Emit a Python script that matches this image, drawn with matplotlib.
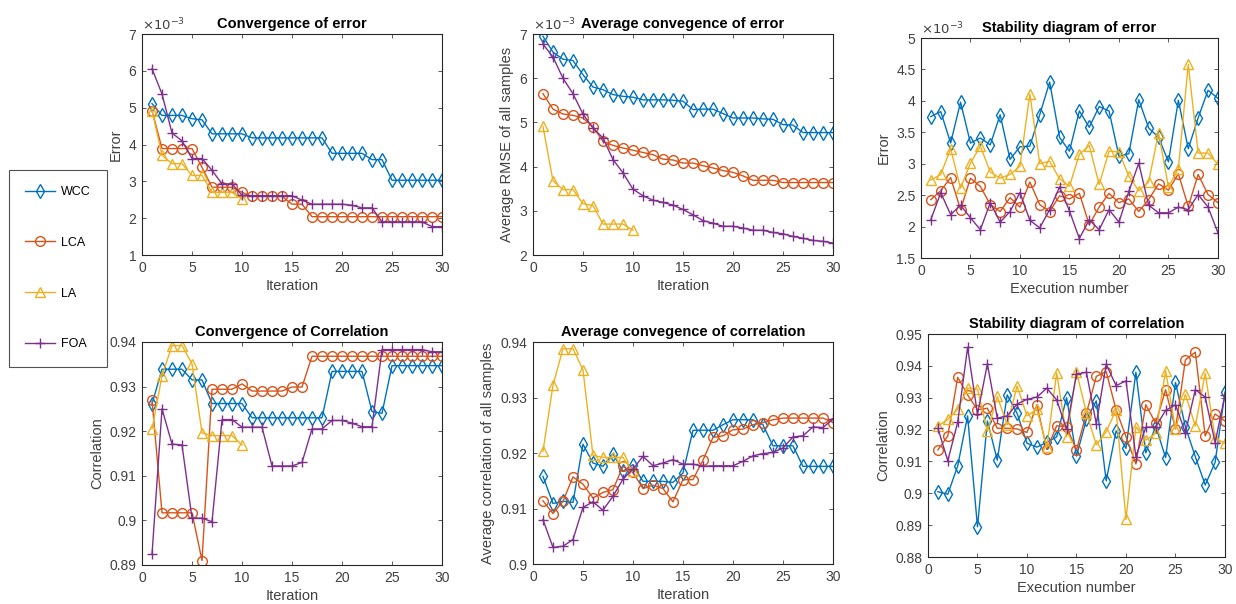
import numpy as np
import matplotlib.pyplot as plt
from matplotlib.lines import Line2D

plt.rcParams['font.family'] = ['Liberation Sans', 'DejaVu Sans']

it = np.arange(1, 31)
it_la = np.arange(1, 11)

# Convergence of error (x1e-3)
ce_wcc = [5.11, 4.79, 4.79, 4.79, 4.70, 4.67, 4.29, 4.29, 4.29, 4.29,
          4.18, 4.18, 4.18, 4.18, 4.18, 4.18, 4.18, 4.18, 3.76, 3.76,
          3.76, 3.76, 3.59, 3.59, 3.03, 3.03, 3.03, 3.03, 3.03, 3.03]
ce_lca = [4.92, 3.89, 3.89, 3.89, 3.89, 3.38, 2.84, 2.84, 2.84, 2.70,
          2.59, 2.59, 2.59, 2.59, 2.38, 2.38, 2.04, 2.04, 2.04, 2.04,
          2.04, 2.04, 2.04, 2.04, 2.04, 2.04, 2.04, 2.04, 2.04, 2.04]
ce_la = [4.92, 3.71, 3.48, 3.48, 3.16, 3.16, 2.70, 2.70, 2.70, 2.52]
ce_foa = [6.06, 5.37, 4.31, 4.10, 3.62, 3.62, 3.30, 2.93, 2.93, 2.62,
          2.61, 2.61, 2.61, 2.61, 2.61, 2.49, 2.38, 2.38, 2.38, 2.38,
          2.35, 2.28, 2.28, 1.90, 1.90, 1.90, 1.90, 1.90, 1.77, 1.77]

# Average convergence of error (x1e-3)
ae_wcc = [6.95, 6.59, 6.43, 6.40, 6.08, 5.80, 5.74, 5.63, 5.59, 5.57,
          5.51, 5.51, 5.51, 5.50, 5.48, 5.29, 5.30, 5.30, 5.20, 5.10,
          5.10, 5.10, 5.08, 5.07, 4.95, 4.94, 4.77, 4.77, 4.77, 4.77]
ae_lca = [5.65, 5.30, 5.19, 5.16, 5.10, 4.90, 4.57, 4.48, 4.42, 4.37,
          4.32, 4.27, 4.17, 4.15, 4.08, 4.08, 4.02, 3.97, 3.91, 3.87,
          3.79, 3.69, 3.69, 3.69, 3.64, 3.64, 3.64, 3.64, 3.64, 3.64]
ae_la = [4.91, 3.68, 3.48, 3.48, 3.16, 3.12, 2.70, 2.70, 2.70, 2.56]
ae_foa = [6.77, 6.48, 6.00, 5.65, 5.19, 4.87, 4.65, 4.16, 3.86, 3.49,
          3.34, 3.24, 3.19, 3.13, 3.03, 2.91, 2.78, 2.72, 2.65, 2.65,
          2.61, 2.56, 2.56, 2.51, 2.48, 2.42, 2.38, 2.33, 2.31, 2.27]

# Stability of error (x1e-3)
se_wcc = [3.75, 3.83, 3.33, 3.98, 3.33, 3.41, 3.30, 3.78, 3.07, 3.27,
          3.28, 3.78, 4.30, 3.42, 3.20, 3.84, 3.58, 3.91, 3.84, 3.12,
          3.16, 4.02, 3.57, 3.42, 3.03, 4.01, 3.24, 3.73, 4.17, 4.04]
se_lca = [2.43, 2.57, 2.78, 2.27, 2.77, 2.64, 2.35, 2.24, 2.46, 2.31,
          2.71, 2.35, 2.24, 2.49, 2.44, 2.53, 2.03, 2.31, 2.53, 2.38,
          2.44, 2.24, 2.43, 2.68, 2.58, 2.84, 2.32, 2.83, 2.51, 2.38]
se_la = [2.74, 2.83, 3.24, 2.61, 3.01, 3.28, 2.87, 2.77, 2.83, 2.96,
         4.11, 3.00, 3.04, 2.76, 2.64, 3.15, 3.29, 2.67, 3.20, 3.19,
         2.80, 2.57, 2.71, 3.49, 2.63, 2.92, 4.58, 3.17, 3.17, 2.99]
se_foa = [2.11, 2.54, 2.19, 2.34, 2.14, 1.95, 2.38, 2.07, 2.24, 2.54,
          2.10, 1.98, 2.27, 2.63, 2.25, 1.81, 2.11, 1.95, 2.27, 2.07,
          2.56, 3.01, 2.34, 2.22, 2.22, 2.31, 2.27, 2.51, 2.31, 1.90]

# Convergence of correlation
cc_wcc = [0.9261, 0.9339, 0.9339, 0.9339, 0.9315, 0.9315, 0.9262, 0.9262, 0.9262, 0.9262,
          0.9230, 0.9230, 0.9230, 0.9230, 0.9230, 0.9230, 0.9230, 0.9230, 0.9334, 0.9334,
          0.9334, 0.9334, 0.9244, 0.9240, 0.9347, 0.9347, 0.9347, 0.9347, 0.9347, 0.9347]
cc_lca = [0.9269, 0.9017, 0.9017, 0.9017, 0.9017, 0.8910, 0.9294, 0.9294, 0.9294, 0.9306,
          0.9290, 0.9290, 0.9290, 0.9290, 0.9299, 0.9299, 0.9368, 0.9368, 0.9368, 0.9368,
          0.9368, 0.9368, 0.9368, 0.9368, 0.9368, 0.9368, 0.9368, 0.9368, 0.9368, 0.9368]
cc_la = [0.9205, 0.9324, 0.9392, 0.9392, 0.9351, 0.9196, 0.9190, 0.9190, 0.9190, 0.9169]
cc_foa = [0.8924, 0.9250, 0.9171, 0.9169, 0.9005, 0.9005, 0.8997, 0.9226, 0.9226, 0.9209,
          0.9209, 0.9209, 0.9122, 0.9122, 0.9122, 0.9130, 0.9205, 0.9205, 0.9224, 0.9224,
          0.9218, 0.9210, 0.9210, 0.9383, 0.9383, 0.9383, 0.9383, 0.9383, 0.9378, 0.9378]

# Average convergence of correlation
ac_wcc = [0.9158, 0.9109, 0.9113, 0.9111, 0.9216, 0.9182, 0.9176, 0.9199, 0.9167, 0.9179,
          0.9149, 0.9149, 0.9149, 0.9147, 0.9164, 0.9241, 0.9241, 0.9241, 0.9251, 0.9260,
          0.9260, 0.9260, 0.9251, 0.9213, 0.9213, 0.9213, 0.9176, 0.9176, 0.9176, 0.9176]
ac_lca = [0.9114, 0.9091, 0.9113, 0.9157, 0.9144, 0.9119, 0.9129, 0.9134, 0.9176, 0.9165,
          0.9136, 0.9142, 0.9136, 0.9112, 0.9152, 0.9152, 0.9187, 0.9228, 0.9231, 0.9242,
          0.9243, 0.9251, 0.9255, 0.9260, 0.9263, 0.9263, 0.9263, 0.9263, 0.9263, 0.9255]
ac_la = [0.9203, 0.9322, 0.9388, 0.9388, 0.9350, 0.9196, 0.9192, 0.9192, 0.9192, 0.9167]
ac_foa = [0.9080, 0.9030, 0.9032, 0.9044, 0.9102, 0.9112, 0.9097, 0.9122, 0.9153, 0.9171,
          0.9194, 0.9177, 0.9182, 0.9188, 0.9180, 0.9180, 0.9176, 0.9177, 0.9177, 0.9177,
          0.9185, 0.9195, 0.9199, 0.9201, 0.9209, 0.9229, 0.9231, 0.9247, 0.9246, 0.9261]

# Stability of correlation
sc_wcc = [0.9005, 0.8997, 0.9086, 0.9243, 0.8895, 0.9227, 0.9104, 0.9309, 0.9251, 0.9157,
          0.9145, 0.9160, 0.9177, 0.9300, 0.9117, 0.9232, 0.9290, 0.9039, 0.9196, 0.9141,
          0.9380, 0.9127, 0.9211, 0.9112, 0.9348, 0.9209, 0.9115, 0.9026, 0.9097, 0.9317]
sc_lca = [0.9136, 0.9180, 0.9364, 0.9309, 0.9262, 0.9267, 0.9204, 0.9204, 0.9202, 0.9191,
          0.9278, 0.9138, 0.9212, 0.9209, 0.9136, 0.9251, 0.9367, 0.9382, 0.9262, 0.9178,
          0.9092, 0.9278, 0.9220, 0.9325, 0.9202, 0.9419, 0.9443, 0.9180, 0.9249, 0.9227]
sc_la = [0.9211, 0.9232, 0.9264, 0.9330, 0.9327, 0.9194, 0.9304, 0.9215, 0.9337, 0.9243,
         0.9264, 0.9144, 0.9378, 0.9178, 0.9382, 0.9253, 0.9152, 0.9193, 0.9262, 0.8918,
         0.9209, 0.9167, 0.9188, 0.9385, 0.9201, 0.9311, 0.9211, 0.9377, 0.9173, 0.9157]
sc_foa = [0.9204, 0.9102, 0.9223, 0.9458, 0.9248, 0.9406, 0.9236, 0.9243, 0.9280, 0.9295,
          0.9302, 0.9330, 0.9293, 0.9201, 0.9374, 0.9380, 0.9218, 0.9405, 0.9338, 0.9353,
          0.9115, 0.9207, 0.9209, 0.9260, 0.9278, 0.9190, 0.9325, 0.9302, 0.9159, 0.9309]

names = ['WCC', 'LCA', 'LA', 'FOA']
colors = ['#0072BD', '#D95319', '#EDB120', '#7E2F8E']
markers = ['d', 'o', '^', '+']

panels = [
    # rect, series, title, ylabel, xlabel, ylim, yticks, scaled
    ([0.1149, 0.5778, 0.2427, 0.3659], [ce_wcc, ce_lca, ce_la, ce_foa],
     'Convergence of error', 'Error', 'Iteration', (1, 7), np.arange(1, 8, 1), True),
    ([0.4312, 0.5778, 0.2427, 0.3659], [ae_wcc, ae_lca, ae_la, ae_foa],
     'Average convegence of error', 'Average RMSE of all samples', 'Iteration', (2, 7), np.arange(2, 8, 1), True),
    ([0.7451, 0.5728, 0.2403, 0.3642], [se_wcc, se_lca, se_la, se_foa],
     'Stability diagram of error', 'Error', 'Execution number', (1.5, 5), np.arange(1.5, 5.01, 0.5), True),
    ([0.1149, 0.0646, 0.2427, 0.3692], [cc_wcc, cc_lca, cc_la, cc_foa],
     'Convergence of Correlation', 'Correlation', 'Iteration', (0.89, 0.94), np.arange(0.89, 0.9401, 0.01), False),
    ([0.4312, 0.0662, 0.2427, 0.3675], [ac_wcc, ac_lca, ac_la, ac_foa],
     'Average convegence of correlation', 'Average correlation of all samples', 'Iteration', (0.90, 0.94), np.arange(0.90, 0.9401, 0.01), False),
    ([0.7508, 0.0778, 0.2403, 0.3692], [sc_wcc, sc_lca, sc_la, sc_foa],
     'Stability diagram of correlation', 'Correlation', 'Execution number', (0.88, 0.95), np.arange(0.88, 0.9501, 0.01), False),
]

fig = plt.figure(figsize=(12.36, 6.04), dpi=100)
tick_col = '#404040'

for rect, series, title, ylab, xlab, ylim, yticks, scaled in panels:
    ax = fig.add_axes(rect)
    for s, c, m in zip(series, colors, markers):
        xs = it if len(s) == 30 else it_la
        ax.plot(xs, s, color=c, marker=m, markersize=7, markerfacecolor='none',
                markeredgewidth=1.0, linewidth=1.0)
    ax.set_xlim(0, 30)
    ax.set_ylim(*ylim)
    ax.set_xticks(np.arange(0, 31, 5))
    ax.set_yticks(yticks)
    ax.set_yticklabels([f'{round(v, 3):g}' for v in yticks])
    ax.tick_params(direction='in', top=True, right=True, labelsize=10,
                   colors=tick_col, length=3, width=0.6, pad=4)
    for sp in ax.spines.values():
        sp.set_color('#262626')
        sp.set_linewidth(0.8)
    ax.set_title(title, fontsize=10.5, fontweight='bold', pad=4)
    ax.set_xlabel(xlab, fontsize=10.5, color=tick_col, labelpad=3)
    ax.set_ylabel(ylab, fontsize=10.5, color=tick_col, labelpad=4)
    if scaled:
        ax.text(0, 1.005, r'$\times10^{-3}$', transform=ax.transAxes,
                ha='left', va='bottom', fontsize=9.5, color=tick_col)

handles = [Line2D([], [], color=c, marker=m, markersize=7, markerfacecolor='none',
                  markeredgewidth=1.0, linewidth=1.0) for c, m in zip(colors, markers)]
leg = fig.legend(handles, names, loc='center left', bbox_to_anchor=(0.004, 0.556),
                 fontsize=9, labelspacing=3.1, handlelength=2.4, handletextpad=0.5,
                 borderpad=1.3, borderaxespad=0.3,
                 frameon=True, fancybox=False, edgecolor='#262626')
leg.get_frame().set_linewidth(0.8)

fig.savefig('out.png', dpi=100)
